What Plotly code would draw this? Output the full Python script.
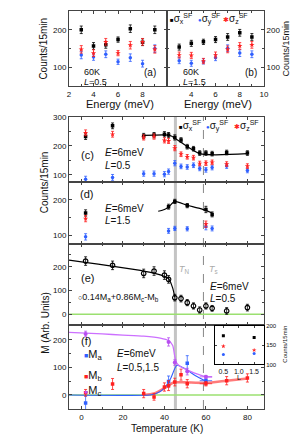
import plotly.graph_objects as go

FONT = "Liberation Sans, Arial, sans-serif"
BLK, BLU, RED, VIO, GRN = "#000000", "#3060ff", "#ff2020", "#b84ef0", "#9be070"

# ---------------- data ----------------
# (a) 60 K, L=0.5, energy scans
E_a = [3, 4, 5, 6, 7, 8, 9]
a_sx = [200, 157, 160, 174, 203, 167, 200]
a_sy = [133, 128, 135, 115, 126, 110, 150]
a_sz = [148, 138, 168, 138, 159, 168, 148]
a_err = [10, 9, 9, 7, 10, 9, 10]
# (b) 60 K, L=1.5
E_b = [3, 4, 5, 6, 7, 8, 9]
b_sx = [154, 164, 168, 174, 181, 192, 181]
b_sy = [118, 111, 116, 126, 151, 138, 135]
b_sz = [133, 132, 117, 133, 148, 157, 160]
b_err = [8, 8, 7, 8, 9, 9, 9]
# (c) E=6 meV, L=0.5 temperature scan
T_c = [2, 15, 30, 35, 40, 42, 45, 48, 51, 54, 57, 60, 63, 70, 80]
c_sx = [232, 269, 234, 237, 240, 237, 229, 220, 197, 190, 175, 175, 173, 177, 175]
c_sy = [85, 91, 104, 104, 102, 111, 140, 129, 127, 133, 122, 117, 125, 130, 115]
c_sz = [245, 240, 229, 232, 219, 217, 192, 171, 162, 159, 139, 140, 143, 137, 130]
c_err = [10, 10, 9, 9, 9, 9, 9, 8, 8, 8, 8, 8, 8, 8, 8]
T_cfit = [30, 40, 43, 57, 80]
c_fit = [236, 238, 235, 173, 173]
# (d) E=6 meV, L=1.5
T_d = [2, 42, 45, 51, 60, 63]
d_sx = [163, 181, 196, 184, 173, 159]
d_sy = [95, 112, 119, 118, 124, 119]
d_err = [9, 7, 6, 6, 9, 7]
T_dz = [2, 60]
d_sz = [147, 131]
T_dfit = [37, 40, 42, 45, 51, 57, 63]
d_fit = [168, 173, 180, 196, 185, 176, 163]
# (e) 0.14Ma+0.86Mc-Mb
T_e = [2, 15, 30, 35, 40, 42, 45, 48, 51, 54, 57, 60, 63, 70, 80]
e_val = [224, 206, 172, 182, 165, 147, 70, 66, 49, 35, 18, 35, 25, 14, 28]
e_err = [18, 18, 18, 18, 18, 16, 14, 14, 13, 13, 13, 13, 12, 14, 14]
T_efit = [-6, 30, 38, 42, 44, 45]
e_fit = [228, 182, 166, 150, 110, 72]
# (f) Ma, Mb, Mc
T_ma = [2, 42, 51, 60]
ma = [-29, 49, 115, 52]
ma_err = [25, 20, 28, 8]
ma_xerr = [0, 0, 0, 3]
T_mb = [2, 15, 30, 35, 40, 42, 45, 48, 51, 60, 70, 80]
mb = [8, 40, 5, -7, 29, 34, 47, 74, 41, 41, 52, 62]
mb_err = [12, 20, 15, 12, 15, 18, 14, 20, 15, 8, 15, 15]
mb_xerr = [0, 0, 0, 0, 0, 0, 0, 0, 0, 3, 0, 0]
T_mc = [2, 42, 45, 51, 60]
mc = [222, 193, 118, 85, 66]
mc_err = [10, 15, 10, 12, 5]
mc_xerr = [0, 0, 0, 0, 3]
T_mafit = [-6, 33, 36, 40, 43, 46, 50, 55, 60]
ma_fit = [0, 0, 5, 25, 60, 108, 95, 70, 50]
T_mbfit = [30, 35, 40, 43, 45, 50, 60, 70, 80]
mb_fit = [0, 5, 25, 40, 46, 46, 44, 52, 60]
T_mcfit = [-6, 10, 20, 30, 38, 42, 44, 45, 46, 48, 52, 56, 60, 63]
mc_fit = [228, 222, 218, 214, 207, 198, 180, 140, 115, 102, 88, 76, 67, 66]
# inset: L dependence
L_ins = [0.5, 1.5]
ins_sx = [174, 170]
ins_sy = [126, 128]
ins_sz = [147, 137]

T_N, T_S = 45.3, 58.8

# ---------------- helpers ----------------
def pts(x, y, e, color, symbol, xa, ya, size=4, ex=None, lw=0):
    tr = dict(x=x, y=y, mode="markers", xaxis=xa, yaxis=ya, showlegend=False,
              marker=dict(color=color, symbol=symbol, size=size,
                          line=dict(color=color, width=lw)))
    if e is not None:
        tr["error_y"] = dict(type="data", array=e, color=color, thickness=0.8, width=1.5)
    if ex is not None:
        tr["error_x"] = dict(type="data", array=ex, color=color, thickness=0.8, width=0)
    return go.Scatter(**tr)

def line(x, y, color, xa, ya, w=1, op=1.0):
    return go.Scatter(x=x, y=y, mode="lines", xaxis=xa, yaxis=ya, showlegend=False,
                      line=dict(color=color, width=w, shape="spline", smoothing=0.6),
                      opacity=op, hoverinfo="skip")

fig = go.Figure()
# (a)
fig.add_trace(pts(E_a, a_sx, a_err, BLK, "square", "x", "y", 3.5))
fig.add_trace(pts(E_a, a_sy, a_err, BLU, "circle", "x", "y", 3.5))
fig.add_trace(pts(E_a, a_sz, a_err, RED, "star", "x", "y", 4))
# (b)
fig.add_trace(pts(E_b, b_sx, b_err, BLK, "square", "x2", "y2", 3.5))
fig.add_trace(pts(E_b, b_sy, b_err, BLU, "circle", "x2", "y2", 3.5))
fig.add_trace(pts(E_b, b_sz, b_err, RED, "star", "x2", "y2", 4))
# (c)
fig.add_trace(line(T_cfit, c_fit, BLK, "x3", "y3", 1.2))
fig.add_trace(pts(T_c, c_sx, c_err, BLK, "square", "x3", "y3", 3.5))
fig.add_trace(pts(T_c, c_sy, c_err, BLU, "circle", "x3", "y3", 3.5))
fig.add_trace(pts(T_c, c_sz, c_err, RED, "star", "x3", "y3", 4))
# (d)
fig.add_trace(line(T_dfit, d_fit, BLK, "x4", "y4", 1.2))
fig.add_trace(pts(T_d, d_sx, d_err, BLK, "square", "x4", "y4", 3.5))
fig.add_trace(pts(T_d, d_sy, d_err, BLU, "circle", "x4", "y4", 3.5))
fig.add_trace(pts(T_dz, d_sz, [9, 9], RED, "star", "x4", "y4", 4))
# (e)
fig.add_trace(line(T_efit, e_fit, BLK, "x5", "y5", 1.2))
fig.add_trace(pts(T_e, e_val, e_err, BLK, "circle-open", "x5", "y5", 4.5, lw=1.2))
# (f)
fig.add_trace(line(T_mbfit, mb_fit, "#ff5a5a", "x6", "y6", 2.6, 0.8))
fig.add_trace(line(T_mafit, ma_fit, BLU, "x6", "y6", 1.1))
fig.add_trace(line(T_mcfit, mc_fit, "#cc70ff", "x6", "y6", 1.3))
fig.add_trace(pts(T_ma, ma, ma_err, BLU, "square", "x6", "y6", 3.5, ex=ma_xerr))
fig.add_trace(pts(T_mb, mb, mb_err, RED, "square", "x6", "y6", 3.5, ex=mb_xerr))
fig.add_trace(pts(T_mc, mc, mc_err, VIO, "circle", "x6", "y6", 4, ex=mc_xerr))
# inset
fig.add_trace(pts(L_ins, ins_sx, None, BLK, "square", "x7", "y7", 3))
fig.add_trace(pts(L_ins, ins_sz, None, RED, "star", "x7", "y7", 3.5))
fig.add_trace(pts(L_ins, ins_sy, None, BLU, "circle", "x7", "y7", 3))

# ---------------- axes ----------------
AX = dict(showline=True, linecolor="#444", linewidth=1, mirror="ticks", ticks="inside",
          ticklen=3, tickcolor="#444", tickwidth=1, showgrid=False, zeroline=False,
          tickfont=dict(size=8, family=FONT, color="#111"))

def ax(**kw):
    d = dict(AX)
    d.update(kw)
    return d

def mn(dt):
    return dict(ticks="inside", ticklen=2, tickcolor="#444", dtick=dt, tick0=0)

top = [0.811, 1.0]
dom_c, dom_d, dom_e, dom_f = [0.571, 0.734], [0.414, 0.571], [0.210, 0.414], [0.0, 0.210]
xT = dict(range=[-6, 88], tickvals=[0, 20, 40, 60, 80], minor=mn(10))

fig.update_layout(
    xaxis=ax(domain=[0, 0.503], anchor="y", range=[2, 10], tickvals=[2, 4, 6, 8], minor=mn(1)),
    yaxis=ax(domain=top, anchor="x", range=[50, 250], tickvals=[100, 200], minor=mn(50)),
    xaxis2=ax(domain=[0.503, 1], anchor="y2", range=[2, 10], tickvals=[4, 6, 8, 10], minor=mn(1)),
    yaxis2=ax(domain=top, anchor="x2", side="right", range=[50, 250], tickvals=[100, 200],
              minor=mn(50)),
    xaxis3=ax(domain=[0, 1], anchor="y3", showticklabels=False, **xT),
    yaxis3=ax(domain=dom_c, anchor="x3", range=[76, 300], tickvals=[100, 200, 300], minor=mn(50)),
    xaxis4=ax(domain=[0, 1], anchor="y4", showticklabels=False, **xT),
    yaxis4=ax(domain=dom_d, anchor="x4", range=[74, 252], tickvals=[100, 200], minor=mn(50)),
    xaxis5=ax(domain=[0, 1], anchor="y5", showticklabels=False, **xT),
    yaxis5=ax(domain=dom_e, anchor="x5", range=[-47, 295], tickvals=[0, 100, 200], minor=mn(50)),
    xaxis6=ax(domain=[0, 1], anchor="y6", **xT),
    yaxis6=ax(domain=dom_f, anchor="x6", range=[-51, 253], tickvals=[0, 100, 200], minor=mn(50)),
    xaxis7=ax(domain=[0.749, 1.0], anchor="y7", range=[0.23, 1.82], tickvals=[0.5, 1.0, 1.5],
              ticktext=["0.5", "1.0", "1.5"], linecolor="#000", ticklen=2,
              tickfont=dict(size=7, family=FONT, color="#111")),
    yaxis7=ax(domain=[0.112, 0.209], anchor="x7", side="right", range=[100, 200],
              tickvals=[100, 150, 200], linecolor="#000", ticklen=2,
              tickfont=dict(size=6, family=FONT, color="#111")),
)

# ---------------- shapes ----------------
shapes = [
    dict(type="line", xref="x6", yref="paper", x0=T_N, x1=T_N, y0=0, y1=dom_c[1],
         line=dict(color="#c4c4c4", width=3), layer="below"),
    dict(type="line", xref="x6", yref="paper", x0=T_S, x1=T_S, y0=0, y1=dom_c[1],
         line=dict(color="#888", width=1, dash="dash"), layer="below"),
]
for n in ["5", "6"]:
    shapes.append(dict(type="line", xref=f"x{n} domain", yref=f"y{n}", x0=0, x1=1, y0=0, y1=0,
                       line=dict(color=GRN, width=1.3), layer="below"))
fig.update_layout(shapes=shapes)

# ---------------- text ----------------
def P(xpx, ypx):
    return (xpx - 69) / 195, (409 - ypx) / 402

ann = []
def txt(s, xpx, ypx, size=9, color="#111", xanchor="left", angle=0):
    x, y = P(xpx, ypx)
    ann.append(dict(text=s, x=x, y=y, xref="paper", yref="paper", showarrow=False,
                    xanchor=xanchor, yanchor="middle", textangle=angle,
                    font=dict(size=size, family=FONT, color=color)))

def glyph(ch, color, px=6):
    return f"<span style='color:{color};font-size:{px}px'>{ch}</span>"

def sig_legend(x0, x1, x2, y):
    txt(glyph("■", BLK) + "σ<sub>x</sub><sup>SF</sup>", x0, y, 10)
    txt(glyph("●", BLU) + "σ<sub>y</sub><sup>SF</sup>", x1, y, 10)
    txt(glyph("✱", RED, 7) + "σ<sub>z</sub><sup>SF</sup>", x2, y, 10)

# top panels
txt("60K", 82, 69, 9); txt("<i>L</i>=0.5", 82, 79, 9); txt("(a)", 150, 69, 10, xanchor="center")
txt("60K", 181, 69, 9); txt("<i>L</i>=1.5", 181, 79, 9); txt("(b)", 251, 69, 10, xanchor="center")
sig_legend(168, 196, 221, 15)
txt("Energy (meV)", 120, 101, 11, xanchor="center")
txt("Energy (meV)", 218, 101, 11, xanchor="center")
txt("Counts/15min", 44, 45, 10, xanchor="center", angle=-90)
txt("Counts/15min", 286, 45, 9, xanchor="center", angle=-90)
# (c)
txt("(c)", 79, 152, 11); txt("<i>E</i>=6meV", 103, 150, 10); txt("<i>L</i>=0.5", 103, 163, 10)
sig_legend(177, 204, 232, 123)
# (d)
txt("(d)", 78, 192, 11); txt("<i>E</i>=6meV", 103, 206, 10); txt("<i>L</i>=1.5", 103, 219, 10)
txt("Counts/15min", 44, 180, 10, xanchor="center", angle=-90)
# (e)
txt("(e)", 79, 277, 11)
txt("<i>T</i><sub>N</sub>", 177, 268, 9, color="#aaa")
txt("<i>T</i><sub>s</sub>", 207, 268, 9, color="#aaa")
txt("<i>E</i>=6meV", 208, 285, 10); txt("<i>L</i>=0.5", 208, 297, 10)
txt(glyph("○", BLK, 7) + "0.14M<sub>a</sub>+0.86M<sub>c</sub>-M<sub>b</sub>", 76, 296, 9)
txt("M (Arb. Units)", 46, 322, 10, xanchor="center", angle=-90)
# (f)
txt("(f)", 79, 340, 11)
txt(glyph("■", BLU, 7) + "M<sub>a</sub>", 82, 354, 11)
txt(glyph("■", RED, 7) + "M<sub>b</sub>", 82, 376, 11)
txt(glyph("●", VIO, 7) + "M<sub>c</sub>", 82, 391, 11)
txt("<i>E</i>=6meV", 115, 353, 10); txt("<i>L</i>=0.5,1.5", 115, 367, 10)
txt("Temperature (K)", 167, 429, 10, xanchor="center")
# inset
txt("L", 239, 377, 7, xanchor="center")
txt("Counts/15min", 285, 344, 6, xanchor="center", angle=-90)

fig.update_layout(annotations=ann, width=295, height=437,
                  margin=dict(l=69, r=31, t=7, b=28),
                  paper_bgcolor="white", plot_bgcolor="white",
                  font=dict(family=FONT, size=9, color="#111"), showlegend=False)

fig.write_html("out.html", config={"displayModeBar": False},
               post_script="document.body.style.margin='0';document.body.style.padding='0';")
